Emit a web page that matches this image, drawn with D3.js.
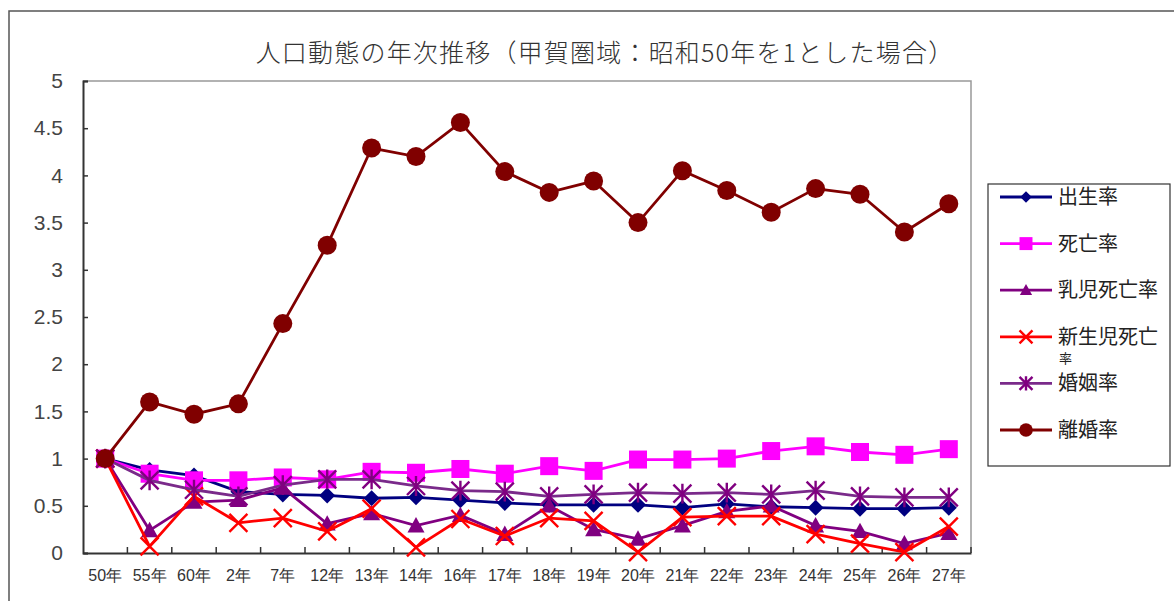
<!DOCTYPE html>
<html><head><meta charset="utf-8">
<script src="https://cdn.jsdelivr.net/npm/d3@7"></script>
<style>
html,body{margin:0;padding:0;background:#fff;}
svg{display:block;font-family:"Noto Sans CJK JP","Noto Sans",sans-serif;}
</style></head>
<body>
<svg id="c" width="1174" height="601"></svg>
<script>
const categories = ["50年","55年","60年","2年","7年","12年","13年","14年","16年","17年","18年","19年","20年","21年","22年","23年","24年","25年","26年","27年"];
const yTicks = [0,0.5,1,1.5,2,2.5,3,3.5,4,4.5,5];
const seriesNames = ["出生率","死亡率","乳児死亡率","新生児死亡率","婚姻率","離婚率"];
const birth    = [1,0.88,0.82,0.65,0.62,0.61,0.58,0.59,0.56,0.53,0.51,0.51,0.51,0.48,0.52,0.49,0.48,0.47,0.47,0.48];
const death    = [1,0.84,0.77,0.77,0.80,0.78,0.86,0.85,0.89,0.84,0.92,0.87,0.99,0.99,1.00,1.08,1.13,1.07,1.04,1.10];
const infant   = [1,0.24,0.54,0.56,0.69,0.31,0.42,0.29,0.40,0.20,0.50,0.25,0.15,0.29,0.44,0.50,0.29,0.23,0.10,0.21];
const neonatal = [1,0.07,0.60,0.32,0.37,0.23,0.47,0.06,0.36,0.18,0.37,0.34,0.01,0.38,0.39,0.39,0.20,0.10,0.01,0.28];
const marriage = [1,0.77,0.67,0.60,0.72,0.78,0.78,0.71,0.66,0.65,0.60,0.62,0.64,0.63,0.64,0.62,0.66,0.60,0.59,0.59];
const divorce  = [1,1.60,1.47,1.58,2.43,3.26,4.29,4.20,4.56,4.04,3.82,3.94,3.50,4.05,3.84,3.61,3.86,3.80,3.40,3.70];

const seriesData = [birth, death, infant, neonatal, marriage, divorce];
const colors = ["#000080","#ff00ff","#800080","#ff0000","#800080","#800000"];
const lineColors = ["#000080","#ff00ff","#800080","#ff0000","#7a2a8a","#800000"];
const shapes = ["diamond","square","triangle","x","asterisk","circle"];

const svg = d3.select("#c");
// outer chart frame
svg.append("rect").attr("x",9).attr("y",11).attr("width",1180).attr("height",600)
  .attr("fill","none").attr("stroke","#555").attr("stroke-width",1.5);

const L=83, R=971, T=81, B=553;
const x = d3.scaleBand().domain(categories).range([L,R]);
const y = d3.scaleLinear().domain([0,5]).range([B,T]);

// plot frame (top/right gray)
svg.append("path").attr("d",`M${L},${T}H${R}V${B}`).attr("fill","none").attr("stroke","#999").attr("stroke-width",1.5);

// title
svg.append("text").attr("x",605).attr("y",62).attr("text-anchor","middle")
  .attr("font-size",25).attr("letter-spacing",1.2).attr("fill","#333").attr("font-weight",300)
  .text("人口動態の年次推移（甲賀圏域：昭和50年を1とした場合）");

// y axis
const yAxis = d3.axisLeft(y).tickValues(yTicks).tickSize(-5).tickPadding(20).tickFormat(d=>String(d));
const gy = svg.append("g").attr("transform",`translate(${L},0)`).call(yAxis);
gy.select(".domain").attr("stroke","#333").attr("stroke-width",2);
gy.selectAll(".tick line").attr("stroke","#333").attr("stroke-width",1.5);
gy.selectAll(".tick text").attr("font-size",21).attr("fill","#444").attr("font-family","Liberation Sans, Arial, sans-serif");

// x axis
const xAxis = d3.axisBottom(x).tickSize(0).tickPadding(17);
const gx = svg.append("g").attr("transform",`translate(0,${B})`).call(xAxis);
gx.select(".domain").attr("stroke","#333").attr("stroke-width",2);
gx.selectAll(".tick text").attr("font-size",16).attr("fill","#333");
// boundary ticks
const bounds = categories.slice(1).map(c=>x(c));
bounds.push(R);
gx.selectAll("line.bt").data(bounds).enter().append("line").attr("class","bt")
  .attr("x1",d=>d).attr("x2",d=>d).attr("y1",0).attr("y2",-6).attr("stroke","#333").attr("stroke-width",1.5);

const cx = c => x(c) + x.bandwidth()/2;

function marker(g, shape, color, s){
  if(shape==="diamond"){
    g.append("path").attr("d",`M0,${-s}L${s},0L0,${s}L${-s},0Z`).attr("fill",color);
  } else if(shape==="square"){
    g.append("rect").attr("x",-s).attr("y",-s).attr("width",2*s).attr("height",2*s).attr("fill",color);
  } else if(shape==="triangle"){
    g.append("path").attr("d",`M0,${-s}L${s},${s*0.8}L${-s},${s*0.8}Z`).attr("fill",color);
  } else if(shape==="x"){
    g.append("path").attr("d",`M${-s},${-s}L${s},${s}M${s},${-s}L${-s},${s}`).attr("stroke",color).attr("stroke-width",2.4);
  } else if(shape==="asterisk"){
    g.append("path").attr("d",`M${-s},${-s}L${s},${s}M${s},${-s}L${-s},${s}M0,${-s*1.1}V${s*1.1}`).attr("stroke",color).attr("stroke-width",2.4);
  } else if(shape==="circle"){
    g.append("circle").attr("r",s).attr("fill",color);
  }
}
const sizes = [8,9,8.5,9,9,9.5];

const line = d3.line().x((d,i)=>cx(categories[i])).y(d=>y(d));
seriesData.forEach((vals,k)=>{
  const g = svg.append("g");
  g.append("path").datum(vals).attr("d",line).attr("fill","none")
    .attr("stroke",lineColors[k]).attr("stroke-width",2.8);
  vals.forEach((v,i)=>{
    const m = g.append("g").attr("transform",`translate(${cx(categories[i])},${y(v)})`);
    marker(m, shapes[k], colors[k], sizes[k]);
  });
});

// legend
const lg = svg.append("g");
lg.append("rect").attr("x",988).attr("y",184).attr("width",182).attr("height",282)
  .attr("fill","#fff").attr("stroke","#333").attr("stroke-width",1.2);
seriesNames.forEach((n,k)=>{
  const yy = 197 + k*46.6;
  lg.append("line").attr("x1",1000).attr("x2",1052).attr("y1",yy).attr("y2",yy)
    .attr("stroke",lineColors[k]).attr("stroke-width",2.8);
  const m = lg.append("g").attr("transform",`translate(1026,${yy})`);
  marker(m, shapes[k], colors[k], sizes[k]*0.72);
  if(k===3){
    lg.append("text").attr("x",1058).attr("y",yy).attr("dy","0.35em").attr("font-size",20).attr("fill","#222").text("新生児死亡");
    lg.append("text").attr("x",1059).attr("y",yy+22).attr("dy","0.35em").attr("font-size",13).attr("fill","#222").text("率");
  } else {
    lg.append("text").attr("x",1058).attr("y",yy).attr("dy","0.35em").attr("font-size",20).attr("fill","#222").text(n);
  }
});
</script>
</body></html>
